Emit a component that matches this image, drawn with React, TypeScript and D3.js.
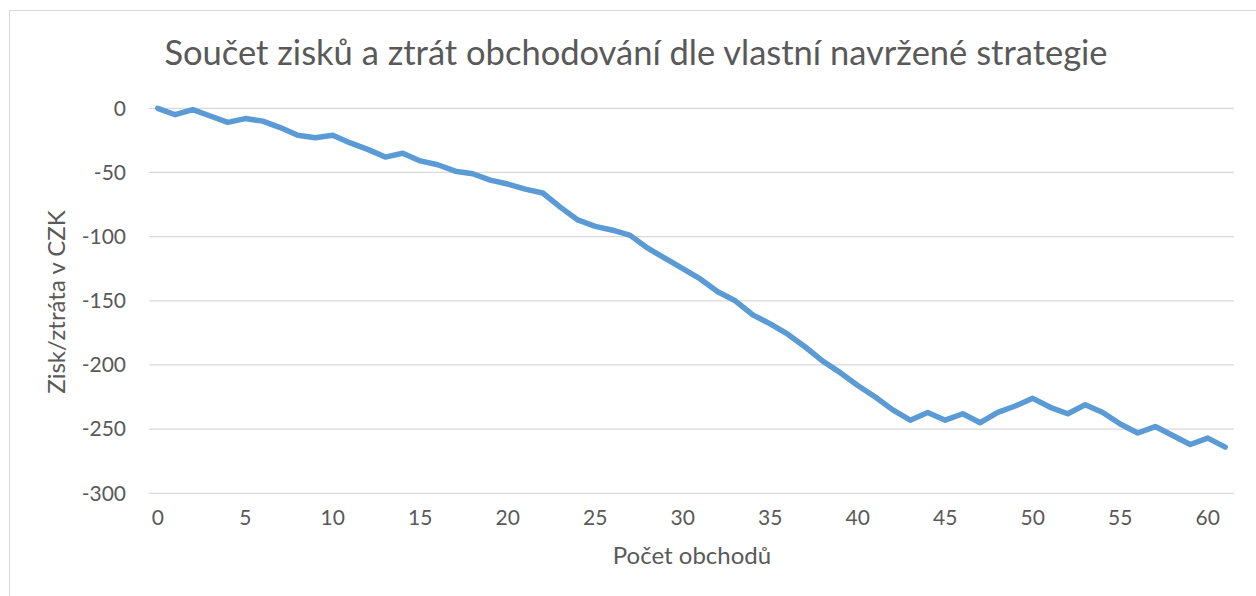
import React from "react";
import * as d3 from "d3";

// cumulative profit/loss per trade (CZK)
const trades = d3.range(0, 62);
const profit = [
  0, -5, -1, -6, -11, -8, -10, -15, -21, -23,
  -21, -27, -32, -38, -35, -41, -44, -49, -51, -56,
  -59, -63, -66, -77, -87, -92, -95, -99, -109, -117,
  -125, -133, -143, -150, -161, -168, -176, -186, -197, -206,
  -216, -225, -235, -243, -237, -243, -238, -245, -237, -232,
  -226, -233, -238, -231, -237, -246, -253, -248, -255, -262,
  -257, -264,
];
const yTicks = [0, -50, -100, -150, -200, -250, -300];
const xTicks = [0, 5, 10, 15, 20, 25, 30, 35, 40, 45, 50, 55, 60];

const title = "Součet zisků a ztrát obchodování dle vlastní navržené strategie";
const xTitle = "Počet obchodů";
const yTitle = "Zisk/ztráta v CZK";

const W = 1256;
const H = 596;
const font = "Lato, 'Open Sans', sans-serif";
const textColor = "#595959";

export default function App() {
  const x = d3.scaleBand<number>().domain(trades).range([149, 1234]);
  const y = d3.scaleLinear().domain([-300, 0]).range([493.3, 108.3]);
  const cx = (i: number) => (x(i) as number) + x.bandwidth() / 2;

  const line = d3
    .line<number>()
    .x((d, i) => cx(i))
    .y((d) => y(d));

  return (
    <svg
      width={W}
      height={H}
      style={{ position: "absolute", left: 0, top: 0, background: "#fff" }}
      fontFamily={font}
    >
      <rect x={9.5} y={10.5} width={1270} height={620} fill="#fff" stroke="#D9D9D9" />

      <text x={636} y={65} textAnchor="middle" fontSize={34.5} fill={textColor}>
        {title}
      </text>

      {yTicks.map((t) => (
        <g key={t}>
          <line x1={149} x2={1234} y1={y(t)} y2={y(t)} stroke="#D9D9D9" strokeWidth={1.3} />
          <text x={126} y={y(t)} dy="0.35em" textAnchor="end" fontSize={21} fill={textColor}>
            {t}
          </text>
        </g>
      ))}

      {xTicks.map((t) => (
        <text key={t} x={cx(t)} y={525} textAnchor="middle" fontSize={21} fill={textColor}>
          {t}
        </text>
      ))}

      <path
        d={line(profit) || ""}
        fill="none"
        stroke="#5B9BD5"
        strokeWidth={5.5}
        strokeLinejoin="round"
        strokeLinecap="round"
      />

      <text x={692} y={564} textAnchor="middle" fontSize={24} fill={textColor}>
        {xTitle}
      </text>
      <text
        transform={`translate(65,302) rotate(-90)`}
        textAnchor="middle"
        fontSize={24}
        fill={textColor}
      >
        {yTitle}
      </text>
    </svg>
  );
}
